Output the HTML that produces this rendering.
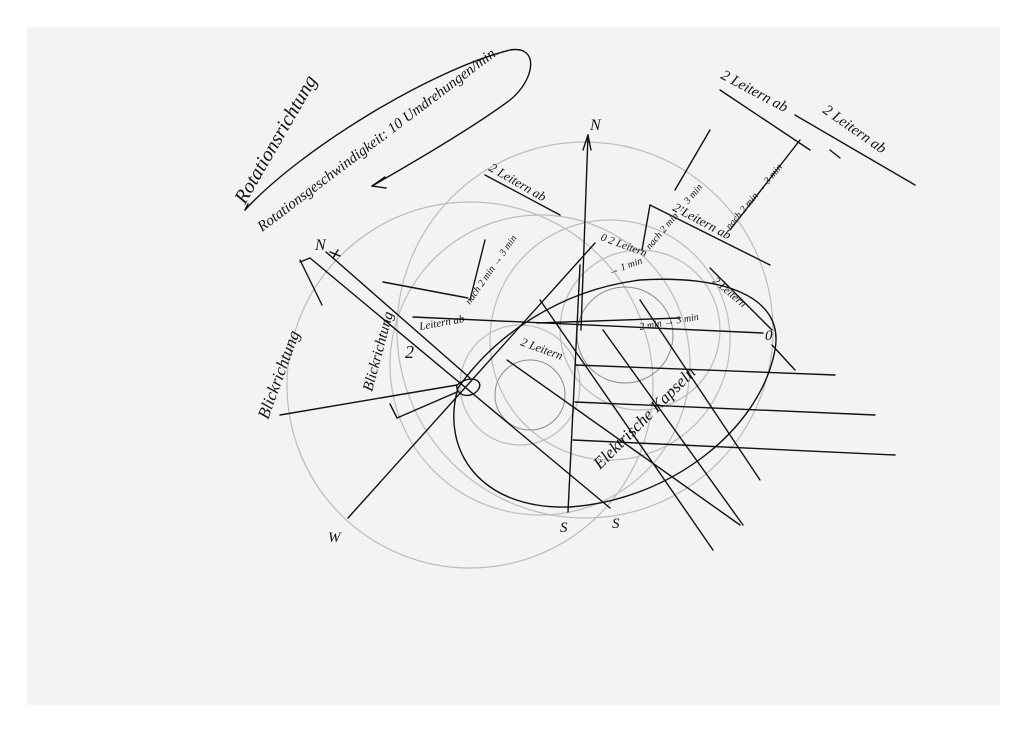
<!DOCTYPE html>
<html><head><meta charset="utf-8"><style>
html,body{margin:0;padding:0;background:#fff}
svg{display:block}
text{font-family:"Liberation Serif",serif;font-style:italic;fill:#111}
</style></head><body>
<svg width="1024" height="732" viewBox="0 0 1024 732" xmlns="http://www.w3.org/2000/svg">
<rect width="1024" height="732" fill="#fff"/>
<rect x="27" y="27" width="973" height="678" fill="#f3f3f3"/>
<!-- gray circles -->
<g fill="none" stroke="#bbb" stroke-width="1.2">
<circle cx="470" cy="385" r="183"/>
<circle cx="585" cy="330" r="188"/>
<circle cx="540" cy="365" r="150"/>
<circle cx="610" cy="340" r="120"/>
<circle cx="640" cy="330" r="80"/>
<circle cx="520" cy="385" r="60"/>
</g>
<g fill="none" stroke="#8a8a8a" stroke-width="1">
<circle cx="625" cy="335" r="48"/>
<circle cx="530" cy="395" r="35"/>
</g>
<g fill="none" stroke="#111" stroke-width="1.4" stroke-linecap="round">
<!-- title ellipse + arrow -->
<path d="M245,210 C300,150 430,70 510,50 C540,45 535,80 510,100 C470,130 400,170 372,186"/>
<path d="M372,186 L385,177 M372,186 L386,188"/>
<line x1="245" y1="210" x2="248" y2="204"/>
<!-- big ellipse -->
<path d="M458,388 C440,450 480,510 570,507 C670,500 760,430 775,350 C785,295 720,275 640,280 C560,290 495,335 458,388 Z"/>
<path d="M457,385 C455,395 470,400 478,390 C485,380 470,374 457,385"/>
<!-- main diagonals -->
<line x1="310" y1="258" x2="610" y2="508"/>
<line x1="333" y1="258" x2="470" y2="378"/>
<path d="M333,258 L326,252 M333,258 L338,250 M330,252 L340,256"/>
<line x1="300" y1="260" x2="322" y2="305"/>
<line x1="310" y1="258" x2="300" y2="262"/>
<line x1="348" y1="518" x2="595" y2="243"/>
<line x1="588" y1="135" x2="581" y2="330"/>
<path d="M588,135 L583,150 M588,135 L591,150"/>
<line x1="580" y1="265" x2="568" y2="512"/>
<line x1="280" y1="415" x2="457" y2="385"/>
<path d="M390,404 L397,418 L457,392"/>
<line x1="383" y1="282" x2="468" y2="298"/>
<line x1="413" y1="317" x2="763" y2="333"/>
<line x1="537" y1="323" x2="680" y2="318"/>
<line x1="575" y1="365" x2="835" y2="375"/>
<line x1="575" y1="402" x2="875" y2="415"/>
<line x1="573" y1="440" x2="895" y2="455"/>
<line x1="507" y1="360" x2="740" y2="525"/>
<line x1="540" y1="300" x2="713" y2="550"/>
<line x1="603" y1="330" x2="743" y2="525"/>
<line x1="640" y1="300" x2="760" y2="480"/>
<line x1="710" y1="268" x2="772" y2="330"/>
<line x1="772" y1="345" x2="795" y2="370"/>
<!-- upper right -->
<line x1="720" y1="90" x2="810" y2="150"/>
<line x1="795" y1="115" x2="915" y2="185"/>
<line x1="650" y1="205" x2="770" y2="265"/>
<line x1="650" y1="205" x2="642" y2="250"/>
<line x1="485" y1="175" x2="560" y2="215"/>
<line x1="675" y1="190" x2="710" y2="130"/>
<line x1="730" y1="230" x2="800" y2="140"/>
<line x1="830" y1="150" x2="840" y2="158"/>
<line x1="485" y1="240" x2="470" y2="300"/>
</g>
<g font-size="15">
<text x="0" y="0" transform="translate(245,205) rotate(-60)" font-size="20">Rotationsrichtung</text>
<text x="0" y="0" transform="translate(262,232) rotate(-37)" font-size="15">Rotationsgeschwindigkeit: 10 Umdrehungen/min.</text>
<text x="0" y="0" transform="translate(268,420) rotate(-70)" font-size="17">Blickrichtung</text>
<text x="0" y="0" transform="translate(372,392) rotate(-75)" font-size="15">Blickrichtung</text>
<text x="0" y="0" transform="translate(600,470) rotate(-45)" font-size="17">Elektrische Kapseln</text>
<text x="0" y="0" transform="translate(720,78) rotate(28)" font-size="15">2 Leitern ab</text>
<text x="0" y="0" transform="translate(822,112) rotate(35)" font-size="15">2 Leitern ab</text>
<text x="0" y="0" transform="translate(488,170) rotate(30)" font-size="13">2 Leitern ab</text>
<text x="0" y="0" transform="translate(672,210) rotate(28)" font-size="13">2 Leitern ab</text>
<text x="0" y="0" transform="translate(420,330) rotate(-10)" font-size="11">Leitern ab</text>
<text x="0" y="0" transform="translate(520,345) rotate(20)" font-size="12">2 Leitern</text>
<text x="0" y="0" transform="translate(712,282) rotate(40)" font-size="11">2 Leitern</text>
<text x="0" y="0" transform="translate(600,240) rotate(20)" font-size="11">0 2 Leitern</text>
<text x="0" y="0" transform="translate(470,305) rotate(-55)" font-size="10">nach 2 min → 3 min</text>
<text x="0" y="0" transform="translate(730,230) rotate(-50)" font-size="10">nach 2 min → 3 min</text>
<text x="0" y="0" transform="translate(650,250) rotate(-50)" font-size="10">nach 2 min → 3 min</text>
<text x="0" y="0" transform="translate(610,275) rotate(-20)" font-size="10">→ 1 min</text>
<text x="0" y="0" transform="translate(640,330) rotate(-10)" font-size="10">2 min → 3 min</text>
<text x="590" y="130" font-size="16">N</text>
<text x="315" y="250" font-size="16">N</text>
<text x="328" y="542" font-size="15">W</text>
<text x="560" y="532" font-size="15">S</text>
<text x="612" y="528" font-size="15">S</text>
<text x="765" y="340" font-size="15">0</text>
<text x="405" y="358" font-size="18">2</text>
</g>
</svg>
</body></html>
